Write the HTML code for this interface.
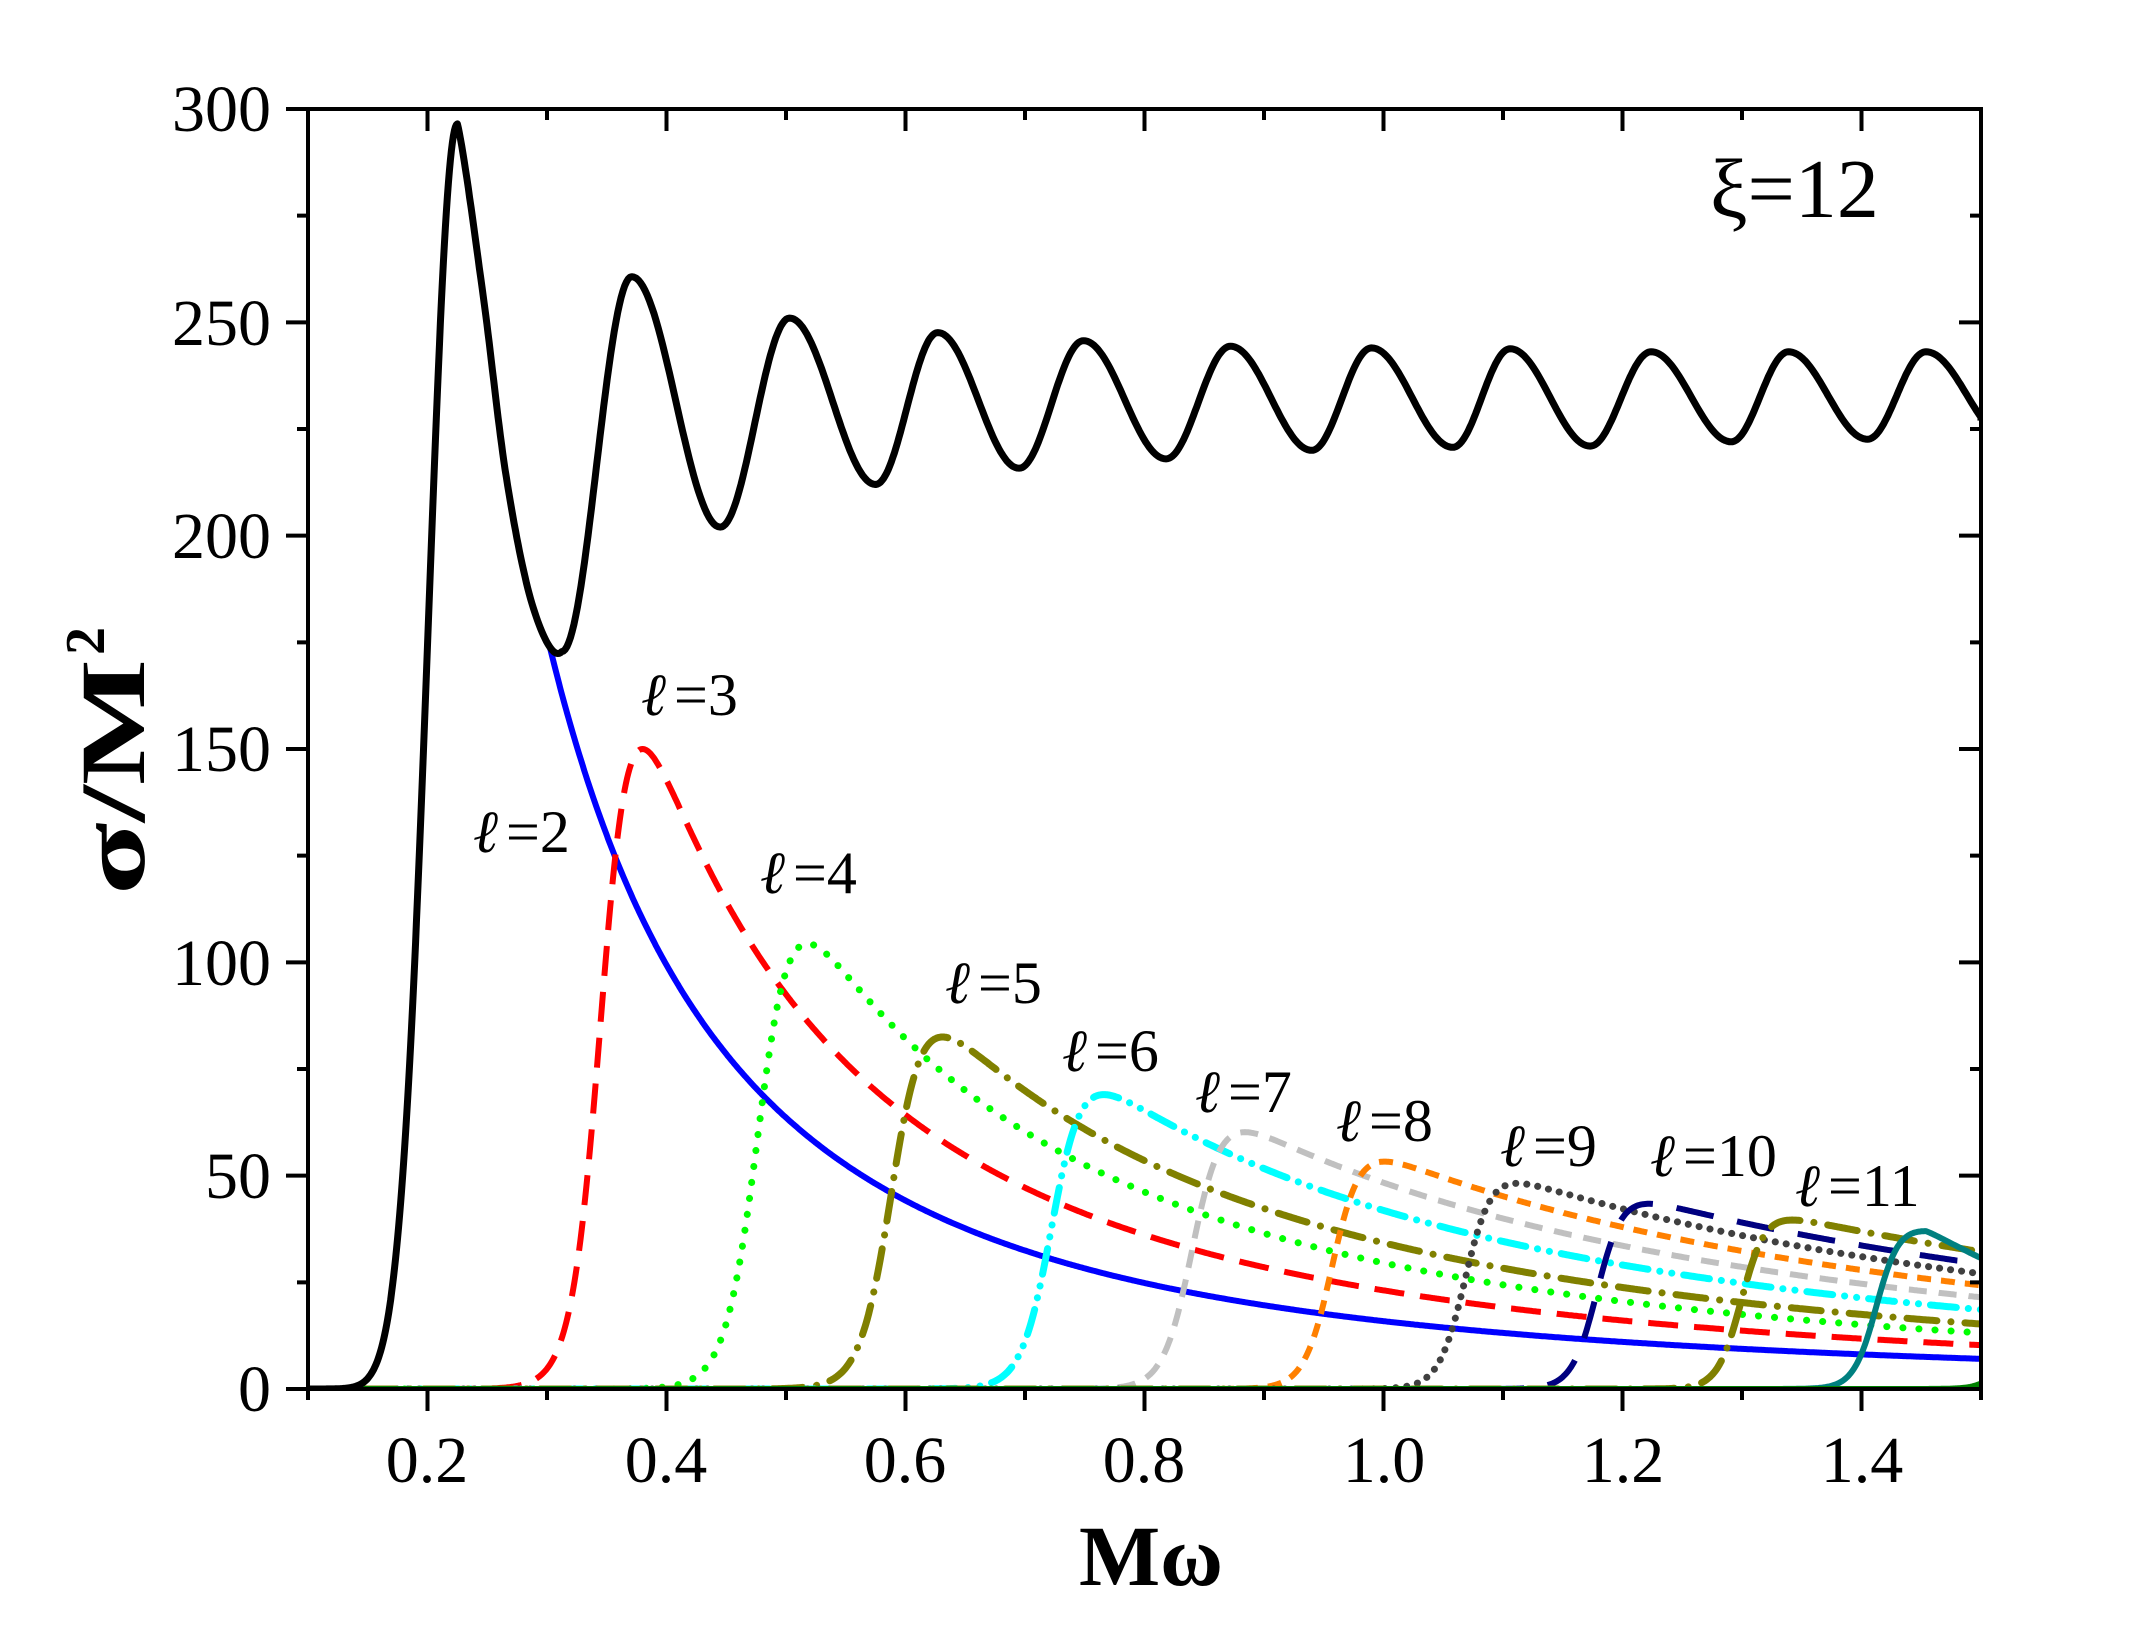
<!DOCTYPE html>
<html><head><meta charset="utf-8">
<style>
html,body{margin:0;padding:0;background:#fff;}
svg{display:block;}
text{font-family:"Liberation Serif","Times New Roman",Times,"DejaVu Serif",serif;fill:#000;}
</style></head>
<body>
<svg id="s" width="2145" height="1642" viewBox="0 0 2145 1642" xmlns="http://www.w3.org/2000/svg">
<rect width="2145" height="1642" fill="#fff"/>
<g id="curves"></g>
<g id="axes" stroke="#000" stroke-width="4" fill="none"></g>
<g font-size="66">
<text x="271" y="1411" text-anchor="end">0</text>
<text x="271" y="1198" text-anchor="end">50</text>
<text x="271" y="985" text-anchor="end">100</text>
<text x="271" y="771" text-anchor="end">150</text>
<text x="271" y="558" text-anchor="end">200</text>
<text x="271" y="345" text-anchor="end">250</text>
<text x="271" y="131" text-anchor="end">300</text>
<text x="427" y="1482" text-anchor="middle">0.2</text>
<text x="666" y="1482" text-anchor="middle">0.4</text>
<text x="905" y="1482" text-anchor="middle">0.6</text>
<text x="1144" y="1482" text-anchor="middle">0.8</text>
<text x="1384" y="1482" text-anchor="middle">1.0</text>
<text x="1623" y="1482" text-anchor="middle">1.2</text>
<text x="1862" y="1482" text-anchor="middle">1.4</text>
</g>
<text x="1151" y="1585" text-anchor="middle" font-size="86" font-weight="bold">Mω</text>
<g transform="translate(116,753) rotate(-90)">
<text x="-142" y="28" font-size="92" font-weight="bold" textLength="236" lengthAdjust="spacingAndGlyphs">σ/M</text>
<text x="98" y="-12" font-size="56" font-weight="bold">2</text>
</g>
<text x="1710" y="217" font-size="84">ξ=12</text>
<g font-size="60">
<text x="473" y="852"><tspan font-style="italic">ℓ</tspan><tspan dx="8">=2</tspan></text>
<text x="641" y="715"><tspan font-style="italic">ℓ</tspan><tspan dx="8">=3</tspan></text>
<text x="760" y="893"><tspan font-style="italic">ℓ</tspan><tspan dx="8">=4</tspan></text>
<text x="945" y="1003"><tspan font-style="italic">ℓ</tspan><tspan dx="8">=5</tspan></text>
<text x="1062" y="1071"><tspan font-style="italic">ℓ</tspan><tspan dx="8">=6</tspan></text>
<text x="1195" y="1112"><tspan font-style="italic">ℓ</tspan><tspan dx="8">=7</tspan></text>
<text x="1336" y="1141"><tspan font-style="italic">ℓ</tspan><tspan dx="8">=8</tspan></text>
<text x="1500" y="1166"><tspan font-style="italic">ℓ</tspan><tspan dx="8">=9</tspan></text>
<text x="1650" y="1176"><tspan font-style="italic">ℓ</tspan><tspan dx="8">=10</tspan></text>
<text x="1795" y="1206"><tspan font-style="italic">ℓ</tspan><tspan dx="8">=11</tspan></text>
</g>
</svg>
<script>
(function(){
var NS="http://www.w3.org/2000/svg";
function px(x){return 308+(x-0.1)*1195;}
function py(y){return 1389-y*4.2667;}
var cg=document.getElementById('curves'), ag=document.getElementById('axes');
function addPath(d,color,w,dash,cap){
  var p=document.createElementNS(NS,'path');
  p.setAttribute('d',d);p.setAttribute('fill','none');p.setAttribute('stroke',color);
  p.setAttribute('stroke-width',w);p.setAttribute('stroke-linejoin','round');
  p.setAttribute('stroke-linecap',cap||'butt');
  if(dash)p.setAttribute('stroke-dasharray',dash);
  cg.appendChild(p);
}
function fpath(f,a,b){
  var d='',n=1400;
  for(var i=0;i<=n;i++){var x=a+(b-a)*i/n;var y=f(x);if(y<0)y=0;
    d+=(i?'L':'M')+px(x).toFixed(1)+' '+py(y).toFixed(1);}
  return d;
}
function lg(z){return 1/(1+Math.exp(-z));}
var pts=[];
// rise: gaussian
for(var i=0;i<=150;i++){var x=0.1+(0.225-0.1)*i/150;var u=(x-0.225)/0.0343;pts.push([x,296.5*Math.exp(-u*u)]);}
// descent: catmull-rom
var kn=[[0.215,291],[0.225,296.5],[0.2467,256],[0.266,213.6],[0.2886,183],[0.3123,172.8],[0.33,195]];
function cr(p0,p1,p2,p3,t){var t2=t*t,t3=t2*t;return 0.5*((2*p1)+(-p0+p2)*t+(2*p0-5*p1+4*p2-p3)*t2+(-p0+3*p1-3*p2+p3)*t3);}
for(var i=1;i<kn.length-2;i++){
  var a=kn[i-1],b=kn[i],c=kn[i+1],e=kn[i+2];
  for(var j=1;j<=20;j++){var t=j/20;if(i==kn.length-3&&j==20)break;pts.push([cr(a[0],b[0],c[0],e[0],t),cr(a[1],b[1],c[1],e[1],t)]);}
}
var ex=[[0.3123,172.8],[0.3709,260.7],[0.445,202],[0.503,251],[0.575,212],[0.627,247.6],[0.695,215.8],[0.749,245.7],[0.818,218],[0.872,244.4],[0.94,220],[0.99,244],[1.058,220.7],[1.106,243.8],[1.173,221],[1.224,243.1],[1.291,222],[1.339,243.1],[1.405,222.6],[1.454,243.1],[1.522,223]];
for(var i=0;i<ex.length-1;i++){
  var a=ex[i],b=ex[i+1];
  for(var j=0;j<40;j++){var t=j/40;var x=a[0]+(b[0]-a[0])*t;if(x>1.5)break;
    var y=b[1]+(a[1]-b[1])*(1+Math.cos(Math.PI*t))/2;pts.push([x,y]);}
}
pts.push([1.5,227]);
function blackAt(x){
  for(var k=0;k<pts.length-1;k++){if(pts[k][0]<=x&&pts[k+1][0]>=x){var u=(x-pts[k][0])/((pts[k+1][0]-pts[k][0])||1);return pts[k][1]+u*(pts[k+1][1]-pts[k][1]);}}
  return 300;
}
// blue l=2 (hidden under black at rise)
addPath(fpath(function(x){var v=15.9/(x*x)*lg((x-0.17)/0.01);return Math.min(v,blackAt(x));},0.1,1.5),'#0000ff',6,null);
var parts=[
 [0.380,150,0.0120,'#ff0000','30 16','butt'],
 [0.518,104.4,0.0135,'#00ff00','0.1 16','round'],
 [0.631,82.5,0.0130,'#808000','30 14 0.1 14','round'],
 [0.766,69,0.0125,'#00ffff','26 12 0.1 12 0.1 12','round'],
 [0.884,60.2,0.0120,'#c0c0c0','18 12','butt'],
 [1.001,53.3,0.0115,'#ff8000','14 10','butt'],
 [1.112,48.2,0.0110,'#404040','0.1 11','round'],
 [1.222,43.4,0.0105,'#000080','38 24','butt'],
 [1.342,39.6,0.0100,'#808000','30 14 0.1 14','round'],
 [1.454,37,0.0095,'#008080',null,'butt'],
 [1.570,34,0.0090,'#008000',null,'butt']
];
parts.forEach(function(p,idx){
  var xp=p[0],yp=p[1],w=p[2];
  var F=1-2*w/xp; var x0=xp-w*Math.log(F/(1-F)); var C=yp*xp*xp/F;
  var extra=(idx==9)?function(x){return x>xp?Math.exp(-(x-xp)*3):1;}:function(){return 1;};
  addPath(fpath(function(x){return C/(x*x)*lg((x-x0)/w)*extra(x);},0.1,1.5),p[3],(p[5]=='round'?7:6),p[4],p[5]);
});
var d='';pts.forEach(function(q,k){if(q[0]>1.5)return;d+=(k?'L':'M')+px(q[0]).toFixed(1)+' '+py(q[1]).toFixed(1);});
addPath(d,'#000',7,null);
// clip
var cp=document.createElementNS(NS,'clipPath');cp.setAttribute('id','c');
var r=document.createElementNS(NS,'rect');r.setAttribute('x',308);r.setAttribute('y',109);r.setAttribute('width',1673);r.setAttribute('height',1280);
cp.appendChild(r);document.getElementById('s').appendChild(cp);cg.setAttribute('clip-path','url(#c)');
// axes
var ad='M308 109H1981V1389H308Z';
for(var k=1;k<=15;k++){var x=0.1*k;var X=px(x);var maj=(k%2==0);var L=maj?22:11;
  ad+='M'+X+' 1389v'+L+'M'+X+' 109v'+L;}
for(var k=0;k<=12;k++){var Y=py(25*k);var maj=(k%2==0);var L=maj?22:11;
  ad+='M308 '+Y+'h-'+L+'M1981 '+Y+'h-'+L;}
var ap=document.createElementNS(NS,'path');ap.setAttribute('d',ad);ag.appendChild(ap);
})();
</script>
</body></html>
